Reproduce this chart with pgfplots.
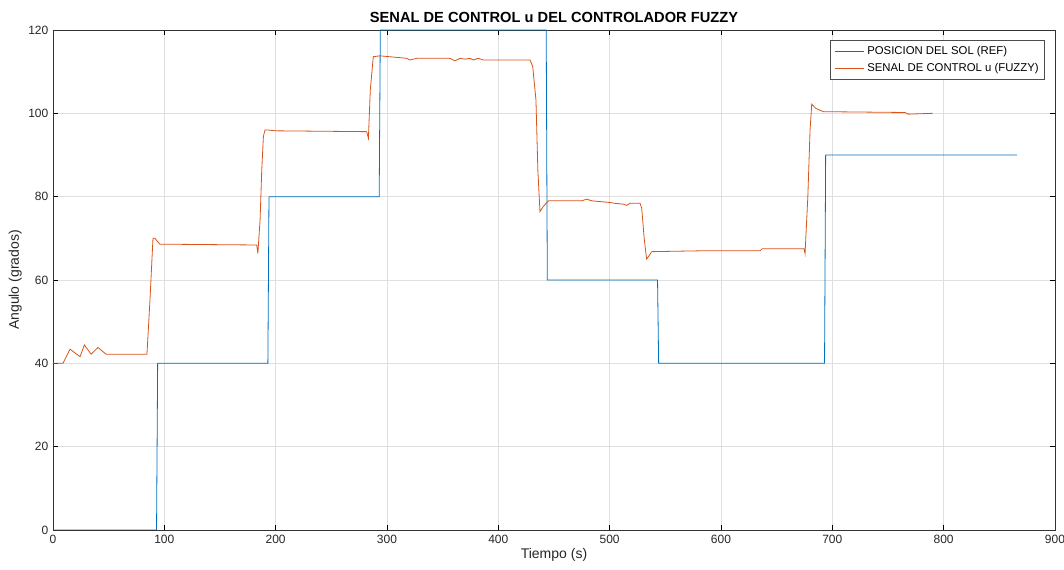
\documentclass[border=0pt]{standalone}
\usepackage{pgfplots}
\pgfplotsset{compat=1.18}
\usepackage{fontspec}
\setmainfont{Liberation Sans}
\definecolor{mblue}{rgb}{0,0.447,0.741}
\definecolor{morange}{rgb}{0.85,0.325,0.098}
\begin{document}
\begin{tikzpicture}
\path[use as bounding box] (-39.75pt,-30pt) rectangle (758.25pt,397.5pt);
\begin{axis}[
  at={(0,0)}, anchor=south west,
  scale only axis, width=751.5pt, height=375pt,
  xmin=0, xmax=900, ymin=0, ymax=120,
  xtick={0,100,...,900}, ytick={0,20,...,120},
  grid=major, major grid style={gray!25, line width=0.5pt},
  tick align=inside, major tick length=4pt,
  tick style={black, line width=0.4pt},
  axis line style={black!80, line width=0.5pt},
  ticklabel style={font=\fontsize{9}{10}\selectfont, text=black!85},
  /pgf/number format/assume math mode=true,
  xlabel={Tiempo (s)}, ylabel={Angulo (grados)},
  label style={font=\fontsize{10.5}{12}\selectfont, text=black!85},
  xlabel style={yshift=3pt},
  ylabel style={yshift=-2pt},
  title={SENAL DE CONTROL u DEL CONTROLADOR FUZZY},
  title style={font=\bfseries\fontsize{11}{13}\selectfont, yshift=-4pt},
  legend style={at={(0.99,0.98)}, anchor=north east, font=\fontsize{8.5}{10}\selectfont,
    draw=black!70, line width=0.5pt, inner sep=2.5pt, row sep=1pt, cells={anchor=west}},
  legend cell align=left,
  legend image code/.code={\draw[mark repeat=2,mark phase=2] plot coordinates {(0cm,0cm) (0.39cm,0cm) (0.78cm,0cm)};},
]
\addlegendimage{draw=mblue, line width=0.8pt}
\addlegendentry{POSICION DEL SOL (REF)}
\addlegendimage{draw=morange, line width=0.8pt}
\addlegendentry{SENAL DE CONTROL u (FUZZY)}
\addplot[draw=mblue, line width=0.6pt, forget plot] coordinates {
(0,0)(93,0)(94,40)(193,40)(194,80)(293,80)(294,120)(443,120)(444,60)(543,60)(544,40)(693,40)(694,90)(866,90)};
\addplot[draw=morange, line width=0.6pt, forget plot] coordinates {
(0,40)(9,40)(15.3,43.4)(24.3,41.6)(28.2,44.4)(34.2,42.2)(40.4,43.8)(47.6,42.2)(84.4,42.2)
(87.1,55.2)(89.8,70.0)(91.5,70.0)(96,68.6)(183,68.4)(184,66.4)(186,74.4)(187.5,86.4)(189,94.5)(190.4,96.0)(193,96.0)(200,95.8)
(281.7,95.6)(283.3,94.0)(285,105.6)(287.7,113.6)(293.7,113.8)(317.7,113.2)(320.7,112.8)(326.7,113.2)(356.6,113.2)(361,112.6)
(365.6,113.2)(370,113.0)(374.6,113.2)(377.5,112.8)(382,113.2)(386.5,112.8)(428.5,112.8)(430.9,111.2)(433.8,103.2)(435.5,86.4)
(437.4,76.4)(440,77.5)(444.9,79.0)(474.9,79.0)(479.4,79.4)(483.9,79.0)(500.3,78.6)(504.8,78.4)(512.3,78.2)(515.3,77.9)(518.3,78.4)
(527.3,78.4)(528.8,77.2)(531,70)(533.2,65.0)(537.8,66.8)(581.2,67.0)(635,67.0)(637,67.5)(674.6,67.5)(675.5,66.3)(678,80)(680,96)
(681.5,102.2)(685,101.2)(691.9,100.4)(765.3,100.2)(768.3,99.8)(790,100.0)};
\end{axis}
\end{tikzpicture}
\end{document}
